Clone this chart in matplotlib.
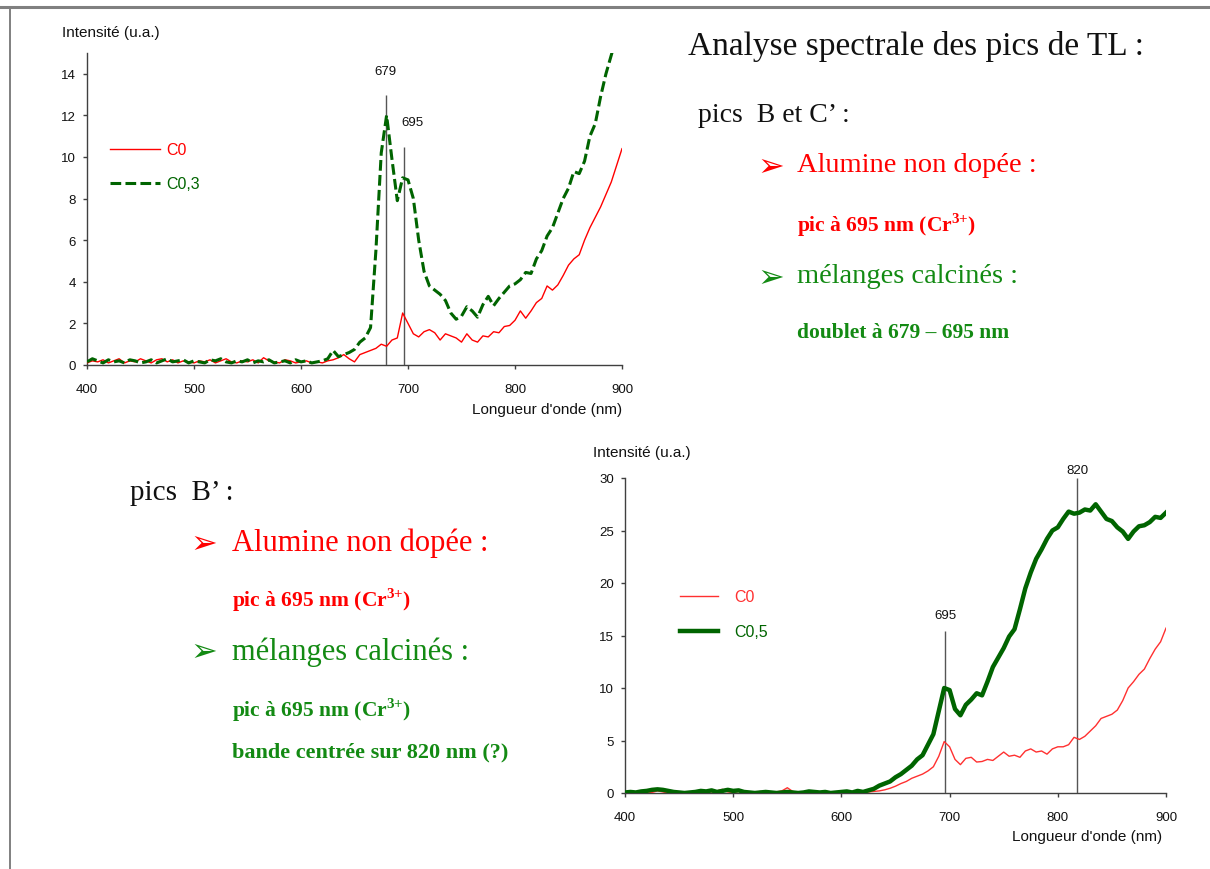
import numpy as np
import matplotlib
matplotlib.use('Agg')
import matplotlib.pyplot as plt
from matplotlib.lines import Line2D

plt.rcParams['font.family'] = ['Liberation Sans', 'DejaVu Sans']
plt.rcParams['mathtext.fontset'] = 'custom'
plt.rcParams['mathtext.rm'] = 'Liberation Serif'
plt.rcParams['mathtext.bf'] = 'Liberation Serif:bold'

# ---------------- data ----------------
wavelength = np.arange(400, 901, 5)

top_c0 = [0.10, 0.20, 0.15, 0.25, 0.10, 0.20, 0.30, 0.10, 0.20, 0.15,
          0.30, 0.20, 0.10, 0.25, 0.30, 0.15, 0.25, 0.10, 0.20, 0.15,
          0.10, 0.20, 0.15, 0.25, 0.10, 0.20, 0.30, 0.15, 0.10, 0.20,
          0.15, 0.25, 0.10, 0.35, 0.20, 0.15, 0.10, 0.25, 0.20, 0.10,
          0.15, 0.20, 0.10, 0.15, 0.10, 0.20, 0.25, 0.35, 0.50, 0.30,
          0.15, 0.50, 0.60, 0.70, 0.80, 1.00, 0.90, 1.20, 1.30, 2.50,
          2.00, 1.50, 1.35, 1.60, 1.70, 1.55, 1.20, 1.50, 1.40, 1.30,
          1.10, 1.50, 1.20, 1.10, 1.40, 1.35, 1.60, 1.55, 1.85, 1.90,
          2.15, 2.60, 2.25, 2.60, 3.00, 3.20, 3.80, 3.60, 3.85, 4.30,
          4.80, 5.10, 5.30, 6.00, 6.60, 7.10, 7.60, 8.20, 8.80, 9.60,
          10.40]

top_c03 = [0.15, 0.30, 0.20, 0.10, 0.25, 0.15, 0.20, 0.10, 0.25, 0.20,
           0.10, 0.15, 0.25, 0.10, 0.20, 0.30, 0.15, 0.20, 0.25, 0.10,
           0.20, 0.15, 0.10, 0.25, 0.20, 0.30, 0.15, 0.10, 0.20, 0.15,
           0.25, 0.10, 0.20, 0.15, 0.25, 0.10, 0.15, 0.20, 0.10, 0.25,
           0.15, 0.20, 0.10, 0.15, 0.20, 0.30, 0.70, 0.40, 0.50, 0.60,
           0.75, 1.10, 1.30, 1.80, 5.50, 10.20, 12.00, 9.90, 7.90, 9.00,
           8.90, 8.00, 6.00, 4.50, 3.80, 3.60, 3.40, 3.10, 2.50, 2.20,
           2.35, 2.80, 2.60, 2.30, 2.90, 3.30, 2.85, 3.20, 3.50, 3.80,
           3.90, 4.10, 4.45, 4.40, 5.10, 5.50, 6.20, 6.60, 7.30, 8.00,
           8.50, 9.30, 9.20, 9.80, 11.00, 11.60, 12.90, 14.00, 14.90, 15.80,
           16.60]

bot_c0 = [0.05, 0.10, 0.00, 0.15, 0.10, 0.05, 0.20, 0.10, 0.00, 0.15,
          0.05, 0.10, 0.00, 0.10, 0.05, 0.15, 0.10, 0.20, 0.35, 0.10,
          0.05, 0.15, 0.00, 0.10, 0.05, 0.15, 0.10, 0.00, 0.10, 0.20,
          0.50, 0.15, 0.05, 0.10, 0.00, 0.15, 0.10, 0.20, 0.05, 0.10,
          0.00, 0.15, 0.10, 0.05, 0.20, 0.10, 0.15, 0.20, 0.30, 0.45,
          0.65, 0.90, 1.10, 1.40, 1.60, 1.80, 2.10, 2.50, 3.50, 4.90,
          4.40, 3.20, 2.70, 3.30, 3.40, 2.95, 3.00, 3.20, 3.10, 3.50,
          3.90, 3.50, 3.60, 3.40, 4.00, 4.20, 3.90, 4.00, 3.70, 4.20,
          4.40, 4.40, 4.60, 5.30, 5.10, 5.40, 5.90, 6.40, 7.10, 7.30,
          7.50, 7.90, 8.80, 10.00, 10.60, 11.30, 11.80, 12.80, 13.70, 14.40,
          15.70]

bot_c05 = [0.05, 0.10, 0.05, 0.15, 0.20, 0.30, 0.35, 0.30, 0.20, 0.10,
           0.05, 0.00, 0.05, 0.10, 0.20, 0.15, 0.25, 0.10, 0.20, 0.30,
           0.20, 0.25, 0.10, 0.05, 0.00, 0.05, 0.10, 0.05, 0.00, 0.05,
           0.10, 0.05, 0.00, 0.05, 0.15, 0.10, 0.05, 0.10, 0.00, 0.05,
           0.10, 0.15, 0.05, 0.20, 0.10, 0.25, 0.40, 0.70, 0.90, 1.10,
           1.50, 1.80, 2.20, 2.60, 3.20, 3.60, 4.60, 5.60, 7.80, 10.00,
           9.80, 8.00, 7.40, 8.40, 8.90, 9.50, 9.30, 10.60, 12.00, 12.90,
           13.80, 14.90, 15.60, 17.50, 19.50, 21.00, 22.30, 23.20, 24.20, 25.00,
           25.30, 26.10, 26.80, 26.60, 26.70, 27.00, 26.90, 27.50, 26.80, 26.10,
           25.90, 25.30, 24.90, 24.20, 24.90, 25.40, 25.50, 25.80, 26.30, 26.20,
           26.70]

top_peaks = [679, 696]
top_peak_heights = [13.0, 10.5]
top_peak_labels = ['679', '695']

bot_peaks = [696, 818]
bot_peak_heights = [15.4, 30.0]
bot_peak_labels = ['695', '820']

x_ticks = [400, 500, 600, 700, 800, 900]
top_y_ticks = [0, 2, 4, 6, 8, 10, 12, 14]
bot_y_ticks = [0, 5, 10, 15, 20, 25, 30]

RED = '#ff0000'
GREEN = '#006400'
TGREEN = '#138a13'
AXC = '#404040'
TICKFS = 9.5

# ---------------- figure ----------------
W, H = 1210, 870
fig = plt.figure(figsize=(W / 100, H / 100), dpi=100)
fig.patch.set_facecolor('white')


def fx(px):
    return px / W


def fy(py):
    return 1 - py / H


def style_axes(ax, yticks, ymax):
    ax.set_xlim(400, 900)
    ax.set_ylim(0, ymax)
    ax.set_xticks(x_ticks)
    ax.set_yticks(yticks)
    for s in ['top', 'right']:
        ax.spines[s].set_visible(False)
    for s in ['left', 'bottom']:
        ax.spines[s].set_color(AXC)
        ax.spines[s].set_linewidth(1.0)
    ax.tick_params(axis='both', direction='out', length=3, width=1,
                   color=AXC, labelsize=TICKFS, labelcolor='#111111')
    ax.tick_params(axis='x', pad=10)
    ax.tick_params(axis='y', pad=5)
    ax.patch.set_alpha(0)


ax1 = fig.add_axes([fx(87), fy(366), fx(622) - fx(87), fy(54) - fy(366)])
style_axes(ax1, top_y_ticks, 15)
ax1.vlines(top_peaks, 0, top_peak_heights, color='#555555', lw=1.0, zorder=3)
ax1.plot(wavelength, top_c0, color=RED, lw=1.0, label='C0', zorder=4)
ax1.plot(wavelength, top_c03, color=GREEN, lw=2.2, ls=(0, (3.5, 1.4)),
         label='C0,3', zorder=5)
for xv, hv, lab, dx, dy in zip(top_peaks, top_peak_heights, top_peak_labels,
                               [0, 6], [17, 18]):
    ax1.annotate(lab, (xv, hv), xytext=(dx, dy), textcoords='offset points',
                 ha='center', va='center', fontsize=TICKFS, color='#111111')
ax1.legend(loc='center left', bbox_to_anchor=(0.043, 0.635),
           frameon=False, fontsize=11.5, handlelength=3.1,
           handletextpad=0.4, labelspacing=1.2, borderpad=0,
           borderaxespad=0, labelcolor='linecolor')

ax2 = fig.add_axes([fx(625), fy(794), fx(1166) - fx(625), fy(479) - fy(794)])
style_axes(ax2, bot_y_ticks, 30)
ax2.vlines(bot_peaks, 0, bot_peak_heights, color='#555555', lw=1.0, zorder=3)
ax2.plot(wavelength, bot_c0, color='#ff3030', lw=1.0, label='C0', zorder=4)
ax2.plot(wavelength, bot_c05, color=GREEN, lw=3.2, label='C0,5', zorder=5)
for xv, hv, lab, dy in zip(bot_peaks, bot_peak_heights, bot_peak_labels,
                           [12, 6]):
    ax2.annotate(lab, (xv, hv), xytext=(0, dy), textcoords='offset points',
                 ha='center', va='center', fontsize=TICKFS, color='#111111',
                 annotation_clip=False)
ax2.legend(loc='center left', bbox_to_anchor=(0.1017, 0.567),
           frameon=False, fontsize=11.5, handlelength=2.35,
           handletextpad=1.05, labelspacing=1.25, borderpad=0,
           borderaxespad=0, labelcolor='linecolor')

# axis titles
AXFS = 11
fig.text(fx(62), fy(33), 'Intensité (u.a.)', fontsize=AXFS, ha='left',
         va='center', color='#111111')
fig.text(fx(622), fy(410), "Longueur d'onde (nm)", fontsize=AXFS, ha='right',
         va='center', color='#111111')
fig.text(fx(593), fy(453), 'Intensité (u.a.)', fontsize=AXFS, ha='left',
         va='center', color='#111111')
fig.text(fx(1162), fy(837), "Longueur d'onde (nm)", fontsize=AXFS, ha='right',
         va='center', color='#111111')

# slide frame
fig.add_artist(Line2D([0, 1], [fy(7.5), fy(7.5)], transform=fig.transFigure,
                      color='#808080', lw=2.2))
fig.add_artist(Line2D([fx(9.5), fx(9.5)], [fy(7.5), 0], transform=fig.transFigure,
                      color='#808080', lw=1.4))


def stext(px, py, s, size, color, weight='normal'):
    fig.text(fx(px), fy(py), s, fontsize=size, color=color, fontweight=weight,
             family=['Liberation Serif', 'DejaVu Serif'], ha='left', va='center')


def arrow(px, py, color):
    fig.text(fx(px), fy(py), '\u27a2', fontsize=23, color=color,
             family='DejaVu Sans', ha='left', va='center')


CR = r'pic à 695 nm (Cr$^{\mathbf{3{+}}}$)'

# right text block
stext(688, 47, 'Analyse spectrale des pics de TL :', 24, '#111111')
stext(698, 115, 'pics  B et C\u2019 :', 20, '#111111')
arrow(757, 168, RED)
stext(797, 166, 'Alumine non dopée :', 20.5, RED)
stext(797, 225, CR, 15.5, RED, 'bold')
arrow(757, 278, TGREEN)
stext(797, 277, 'mélanges calcinés :', 20.5, TGREEN)
stext(797, 333, 'doublet à 679 \u2013 695 nm', 15.5, TGREEN, 'bold')

# left text block
stext(130, 493, 'pics  B\u2019 :', 21, '#111111')
arrow(190, 545, RED)
stext(232, 543, 'Alumine non dopée :', 22, RED)
stext(232, 600, CR, 15.5, RED, 'bold')
arrow(190, 652, TGREEN)
stext(232, 652, 'mélanges calcinés :', 22, TGREEN)
stext(232, 710, CR, 15.5, TGREEN, 'bold')
stext(232, 752, 'bande centrée sur 820 nm (?)', 16, TGREEN, 'bold')

fig.savefig('out.png', dpi=100, facecolor='white')
